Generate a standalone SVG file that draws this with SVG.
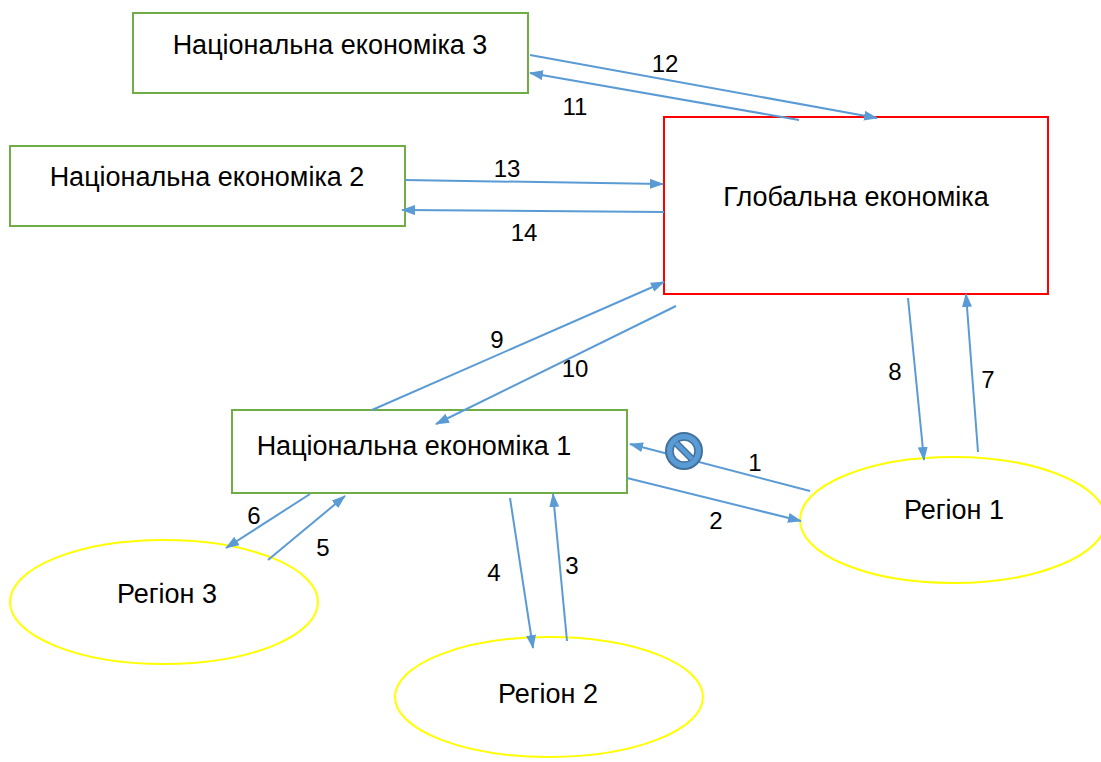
<svg xmlns="http://www.w3.org/2000/svg" width="1101" height="762" viewBox="0 0 1101 762">
<style>
.box{fill:#fff;stroke:#70AD47;stroke-width:2}
.glob{fill:#fff;stroke:#FF0000;stroke-width:2}
.reg{fill:#fff;stroke:#FFFF00;stroke-width:2}
.t{font-family:"Liberation Sans",Arial,sans-serif;font-size:27px;fill:#000;text-anchor:middle}
.n{font-family:"Liberation Sans",Arial,sans-serif;font-size:24px;fill:#000;text-anchor:middle}
.c line{stroke:#5B9BD5;stroke-width:2;marker-end:url(#ah)}
</style>
<defs>
<marker id="ah" viewBox="0 0 14 10" refX="13" refY="5" markerWidth="14" markerHeight="10" markerUnits="userSpaceOnUse" orient="auto">
<path d="M0,0 L14,5 L0,10 Z" fill="#5B9BD5"/>
</marker>
</defs>
<rect width="1101" height="762" fill="#fff"/>
<g id="ne3"><rect class="box" x="133" y="13" width="395" height="80"/><text class="t" x="330" y="54">Національна економіка 3</text></g>
<g id="ne2"><rect class="box" x="10" y="146" width="395" height="80"/><text class="t" x="207" y="186">Національна економіка 2</text></g>
<g id="global"><rect class="glob" x="664" y="117" width="384" height="177"/><text class="t" x="856" y="206">Глобальна економіка</text></g>
<g id="ne1"><rect class="box" x="232" y="410" width="395" height="83"/><text class="t" x="414" y="455">Національна економіка 1</text></g>
<g id="r1"><ellipse class="reg" cx="953" cy="520" rx="153" ry="63"/><text class="t" x="954" y="519">Регіон 1</text></g>
<g id="r3"><ellipse class="reg" cx="164" cy="602" rx="154" ry="62"/><text class="t" x="167" y="603">Регіон 3</text></g>
<g id="r2"><ellipse class="reg" cx="549" cy="697" rx="154" ry="60"/><text class="t" x="548" y="703">Регіон 2</text></g>
<g id="connectors" class="c">
<line x1="530" y1="55" x2="877" y2="118"/>
<line x1="799" y1="120" x2="530" y2="73"/>
<line x1="405" y1="180" x2="663" y2="184"/>
<line x1="664" y1="212" x2="402" y2="210"/>
<line x1="372" y1="410" x2="664" y2="282"/>
<line x1="676" y1="306" x2="436" y2="424"/>
<line x1="908" y1="298" x2="924" y2="460"/>
<line x1="978" y1="452" x2="966" y2="294"/>
<line x1="810" y1="491" x2="630" y2="444"/>
<line x1="627" y1="478" x2="801" y2="521"/>
<line x1="310" y1="494" x2="226" y2="548"/>
<line x1="268" y1="560" x2="345" y2="496"/>
<line x1="510" y1="498" x2="533" y2="648"/>
<line x1="567" y1="641" x2="553" y2="494"/>
</g>
<g id="labels">
<text class="n" x="665" y="72">12</text>
<text class="n" x="575" y="115">11</text>
<text class="n" x="507" y="177">13</text>
<text class="n" x="524" y="241">14</text>
<text class="n" x="497" y="348">9</text>
<text class="n" x="575" y="377">10</text>
<text class="n" x="895" y="380">8</text>
<text class="n" x="988" y="388">7</text>
<text class="n" x="755" y="471">1</text>
<text class="n" x="716" y="529">2</text>
<text class="n" x="254" y="524">6</text>
<text class="n" x="323" y="556">5</text>
<text class="n" x="494" y="581">4</text>
<text class="n" x="572" y="574">3</text>
</g>
<g id="nosymbol">
<circle cx="684" cy="451" r="18" fill="#5B9BD5" stroke="#41719C" stroke-width="2"/>
<circle cx="684" cy="451" r="11" fill="#fff" stroke="#41719C" stroke-width="1.5"/>
<line x1="676" y1="443" x2="692" y2="459" stroke="#41719C" stroke-width="7"/>
<line x1="676" y1="443" x2="692" y2="459" stroke="#5B9BD5" stroke-width="4.5"/>
</g>
</svg>
